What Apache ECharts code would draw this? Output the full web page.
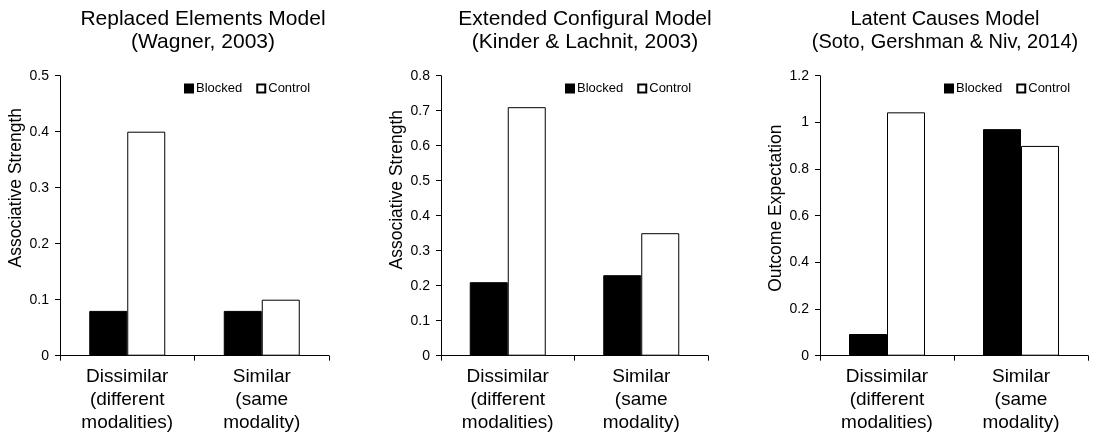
<!DOCTYPE html>
<html>
<head>
<meta charset="utf-8">
<script src="https://cdn.jsdelivr.net/npm/echarts@6/dist/echarts.min.js"></script>
<style>
html,body{margin:0;padding:0;background:#fff;}
#c{width:1095px;height:436px;}
</style>
</head>
<body>
<div id="c"></div>
<script>
const categories = ['Dissimilar\n(different\nmodalities)', 'Similar\n(same\nmodality)'];
const seriesNames = ['Blocked', 'Control'];

const titles = [
  'Replaced Elements Model\n(Wagner, 2003)',
  'Extended Configural Model\n(Kinder & Lachnit, 2003)',
  'Latent Causes Model\n(Soto, Gershman & Niv, 2014)'
];
const yNames = ['Associative Strength', 'Associative Strength', 'Outcome Expectation'];

const wagnerBlocked = [0.08, 0.08];
const wagnerControl = [0.40, 0.10];
const kinderBlocked = [0.21, 0.23];
const kinderControl = [0.71, 0.35];
const sotoBlocked = [0.093, 0.971];
const sotoControl = [1.043, 0.899];

const yMax = [0.5, 0.8, 1.2];
const yInterval = [0.1, 0.1, 0.2];

const blockedData = [wagnerBlocked, kinderBlocked, sotoBlocked];
const controlData = [wagnerControl, kinderControl, sotoControl];

// layout
const grids = [
  {left: 60, width: 269},
  {left: 441, width: 267},
  {left: 820, width: 268}
];
const titleCenters = [198, 580, 940];
const titleSizes = [21, 21, 20];
const legendLefts = [184, 565, 944];
const namePad = [56, 52, 15];
const nameGaps = [28, 28, 30];

const FONT = '"Liberation Sans", Arial, sans-serif';

const option = {
  animation: false,
  backgroundColor: '#fff',
  textStyle: {fontFamily: FONT},
  title: titles.map((t, i) => ({
    text: t,
    left: titleCenters[i],
    top: 3,
    textAlign: 'center',
    textStyle: {fontFamily: FONT, fontSize: titleSizes[i], fontWeight: 'normal', color: '#000', lineHeight: 23}
  })),
  legend: legendLefts.map((l) => ({
    data: seriesNames,
    left: l,
    top: 82,
    orient: 'horizontal',
    icon: 'rect',
    itemWidth: 8,
    itemHeight: 8,
    itemGap: 14,
    padding: 0,
    textStyle: {fontFamily: FONT, fontSize: 13, color: '#000', padding: [0, 0, 0, -2]}
  })),
  grid: grids.map(g => ({left: g.left, width: g.width, top: 75.7, height: 280})),
  xAxis: grids.map((g, i) => ({
    type: 'category',
    gridIndex: i,
    data: categories,
    axisLine: {lineStyle: {color: '#000', width: 1}},
    axisTick: {show: true, length: 5, lineStyle: {color: '#000'}},
    axisLabel: {interval: 0, margin: 10, fontFamily: FONT, fontSize: 19, lineHeight: 23, color: '#000'}
  })),
  yAxis: grids.map((g, i) => ({
    type: 'value',
    gridIndex: i,
    min: 0,
    max: yMax[i],
    interval: yInterval[i],
    name: yNames[i],
    nameLocation: 'middle',
    nameRotate: 90,
    nameGap: nameGaps[i],
    nameTextStyle: {fontFamily: FONT, fontSize: 17.5, color: '#000', padding: [0, 0, 0, namePad[i]]},
    axisLine: {show: true, lineStyle: {color: '#000', width: 1}},
    axisTick: {show: true, length: 5, lineStyle: {color: '#000'}},
    axisLabel: {margin: 11, fontFamily: FONT, fontSize: 14, color: '#000'},
    splitLine: {show: false}
  })),
  series: []
};

for (let i = 0; i < 3; i++) {
  option.series.push({
    name: 'Blocked', type: 'bar', xAxisIndex: i, yAxisIndex: i,
    data: blockedData[i], barWidth: 38, barGap: '0%',
    itemStyle: {color: '#000', borderColor: '#000', borderWidth: 1}
  });
  option.series.push({
    name: 'Control', type: 'bar', xAxisIndex: i, yAxisIndex: i,
    data: controlData[i], barWidth: 38, barGap: '0%',
    itemStyle: {color: '#fff', borderColor: '#000', borderWidth: 1}
  });
}

const chart = echarts.init(document.getElementById('c'), null, {renderer: 'canvas'});
chart.setOption(option);
</script>
</body>
</html>
